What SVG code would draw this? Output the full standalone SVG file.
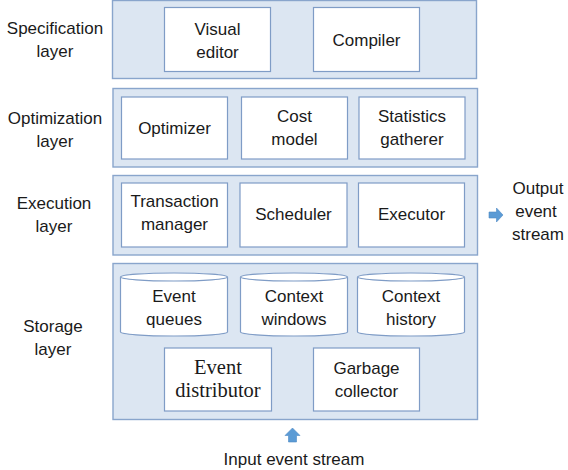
<svg xmlns="http://www.w3.org/2000/svg" width="568" height="470" viewBox="0 0 568 470">
  <style>
    .panel { fill: #dce6f2; stroke: #89a5cc; stroke-width: 1.4; }
    .box { fill: #ffffff; stroke: #7f9cc6; stroke-width: 1.2; }
    .cyl { fill: #ffffff; stroke: #7f9cc6; stroke-width: 1.2; }
    .t { font-family: "Liberation Sans", Arial, sans-serif; font-size: 17px; fill: #1a1a1a; text-anchor: middle; }
    .s { font-family: "Liberation Serif", "Times New Roman", serif; font-size: 20.5px; fill: #1a1a1a; text-anchor: middle; }
    .arrow { fill: #5b9bd5; stroke: #4f8ac4; stroke-width: 0.6; }
  </style>
  <rect width="568" height="470" fill="#ffffff"/>

  <!-- layer panels -->
  <g id="specification-layer">
    <rect class="panel" x="112.5" y="0.5" width="364" height="78"/>
    <text class="t" x="55" y="34">Specification</text>
    <text class="t" x="55" y="57">layer</text>
  </g>
  <g id="optimization-layer">
    <rect class="panel" x="113" y="88.5" width="364.5" height="78.5"/>
    <text class="t" x="55" y="124">Optimization</text>
    <text class="t" x="55" y="147">layer</text>
  </g>
  <g id="execution-layer">
    <rect class="panel" x="113" y="175.5" width="364.5" height="79.5"/>
    <text class="t" x="54" y="209">Execution</text>
    <text class="t" x="54" y="232">layer</text>
  </g>
  <g id="storage-layer">
    <rect class="panel" x="113" y="263.5" width="364.5" height="156"/>
    <text class="t" x="53" y="332">Storage</text>
    <text class="t" x="53" y="355">layer</text>
  </g>

  <!-- specification components -->
  <g id="visual-editor">
    <rect class="box" x="164.5" y="7.5" width="106" height="64"/>
    <text class="t" x="217.5" y="35">Visual</text>
    <text class="t" x="217.5" y="58">editor</text>
  </g>
  <g id="compiler">
    <rect class="box" x="313.5" y="7.5" width="106" height="64"/>
    <text class="t" x="366.5" y="46">Compiler</text>
  </g>

  <!-- optimization components -->
  <g id="optimizer">
    <rect class="box" x="121.5" y="97" width="106" height="62"/>
    <text class="t" x="174.5" y="134">Optimizer</text>
  </g>
  <g id="cost-model">
    <rect class="box" x="241.5" y="97" width="106" height="62"/>
    <text class="t" x="294.5" y="122">Cost</text>
    <text class="t" x="294.5" y="145">model</text>
  </g>
  <g id="statistics-gatherer">
    <rect class="box" x="359" y="97" width="106" height="62"/>
    <text class="t" x="412" y="122">Statistics</text>
    <text class="t" x="412" y="145">gatherer</text>
  </g>

  <!-- execution components -->
  <g id="transaction-manager">
    <rect class="box" x="121.5" y="183" width="106" height="64"/>
    <text class="t" x="174.5" y="207">Transaction</text>
    <text class="t" x="174.5" y="230">manager</text>
  </g>
  <g id="scheduler">
    <rect class="box" x="240" y="183" width="107" height="64"/>
    <text class="t" x="293.5" y="220">Scheduler</text>
  </g>
  <g id="executor">
    <rect class="box" x="358.5" y="183" width="106" height="64"/>
    <text class="t" x="411.5" y="220">Executor</text>
  </g>

  <!-- storage components -->
  <g id="event-queues">
    <path class="cyl" d="M120.5,277 A53.5,4 0 0 1 227.5,277 L227.5,332 A53.5,4 0 0 1 120.5,332 Z"/>
    <path class="cyl" fill="none" d="M120.5,277 A53.5,4 0 0 0 227.5,277"/>
    <text class="t" x="174" y="302">Event</text>
    <text class="t" x="174" y="325">queues</text>
  </g>
  <g id="context-windows">
    <path class="cyl" d="M240.5,277 A53.5,4 0 0 1 347.5,277 L347.5,332 A53.5,4 0 0 1 240.5,332 Z"/>
    <path class="cyl" fill="none" d="M240.5,277 A53.5,4 0 0 0 347.5,277"/>
    <text class="t" x="294" y="302">Context</text>
    <text class="t" x="294" y="325">windows</text>
  </g>
  <g id="context-history">
    <path class="cyl" d="M357.5,277 A53.5,4 0 0 1 464.5,277 L464.5,332 A53.5,4 0 0 1 357.5,332 Z"/>
    <path class="cyl" fill="none" d="M357.5,277 A53.5,4 0 0 0 464.5,277"/>
    <text class="t" x="411" y="302">Context</text>
    <text class="t" x="411" y="325">history</text>
  </g>
  <g id="event-distributor">
    <rect class="box" x="164.5" y="348" width="107" height="63"/>
    <text class="s" x="218" y="374">Event</text>
    <text class="s" x="218" y="397">distributor</text>
  </g>
  <g id="garbage-collector">
    <rect class="box" x="313.5" y="348" width="106" height="63"/>
    <text class="t" x="366.5" y="374">Garbage</text>
    <text class="t" x="366.5" y="397">collector</text>
  </g>

  <!-- event stream connectors -->
  <g id="connectors">
    <path class="arrow" d="M489,212 L496.5,212 L496.5,208 L503,215 L496.5,222 L496.5,218 L489,218 Z"/>
    <path class="arrow" d="M288.5,442 L288.5,435.5 L285,435.5 L292.5,428 L300,435.5 L296.5,435.5 L296.5,442 Z"/>
  </g>

  <g id="output-stream">
    <text class="t" x="538" y="194">Output</text>
    <text class="t" x="536" y="217">event</text>
    <text class="t" x="538" y="240">stream</text>
  </g>
  <g id="input-stream">
    <text class="t" x="294" y="465">Input event stream</text>
  </g>
</svg>
